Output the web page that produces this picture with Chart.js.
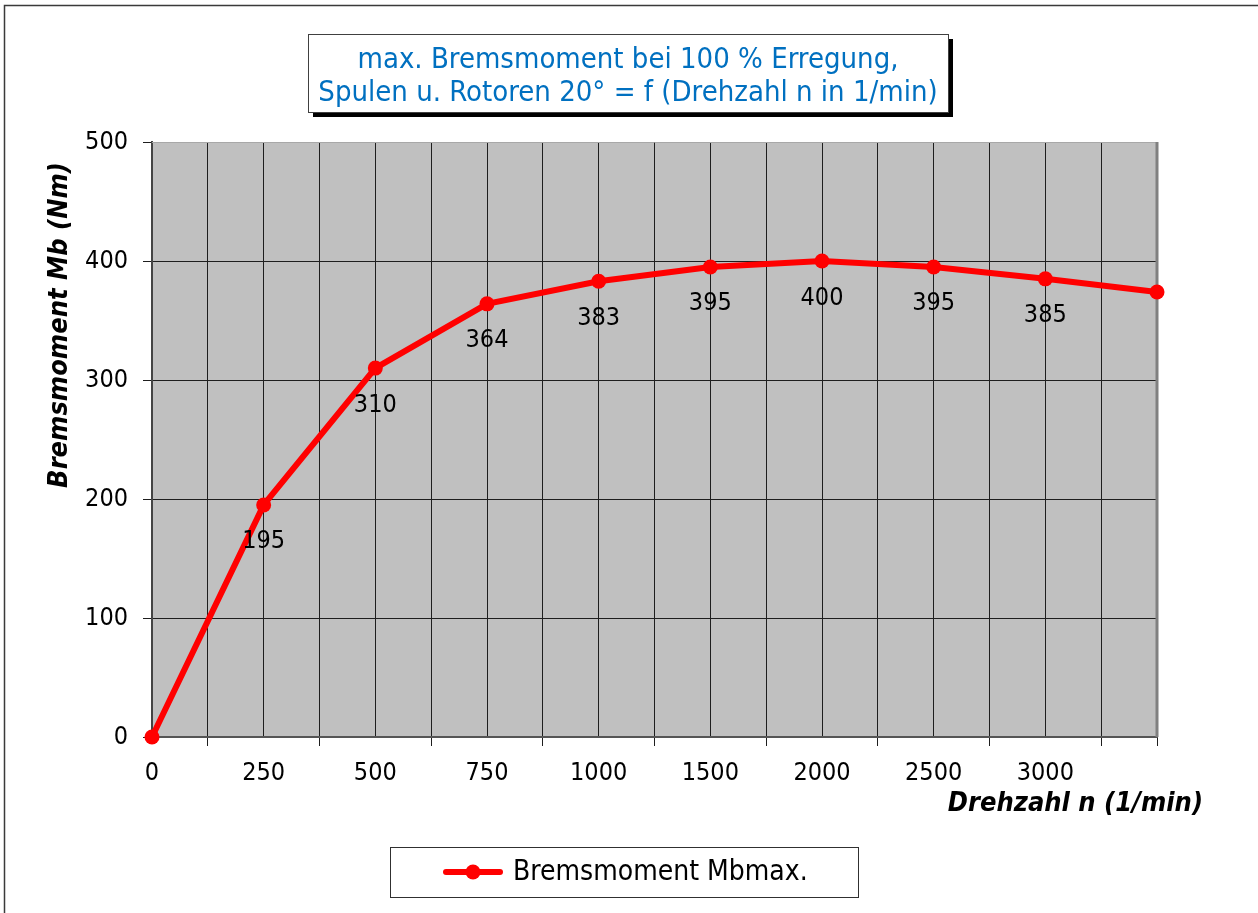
<!DOCTYPE html>
<html>
<head>
<meta charset="utf-8">
<script src="https://cdn.jsdelivr.net/npm/chart.js@4.4.0/dist/chart.umd.min.js"></script>
<style>
  html, body { margin: 0; padding: 0; background: #ffffff; }
  #wrap { width: 1258px; height: 913px; }
  canvas { display: block; }
</style>
</head>
<body>
<div id="wrap"><canvas id="chart" width="1258" height="913"></canvas></div>
<script>
// Rotational speed categories (1/min); the last point carries no axis label
const speedLabels = ['0', '250', '500', '750', '1000', '1500', '2000', '2500', '3000', ''];
// Maximum braking torque Mb (Nm) per speed step
const brakeTorque = [0, 195, 310, 364, 383, 395, 400, 395, 385, 374];
// Points whose value is printed below the marker
const labelledIdx = [1, 2, 3, 4, 5, 6, 7, 8];
// Torque axis range and step
const torqueMin = 0;
const torqueMax = 500;
const torqueStep = 100;

const titleLines = ['max. Bremsmoment bei 100 % Erregung,', 'Spulen u. Rotoren 20° = f (Drehzahl n in 1/min)'];
const seriesName = 'Bremsmoment Mbmax.';
const yTitle = 'Bremsmoment Mb (Nm)';
const xTitle = 'Drehzahl n (1/min)';

const FONT = '"DejaVu Sans Condensed", "DejaVu Sans", sans-serif';
const RED = '#ff0000';
const GRID = '#1e1e1e';

const points = brakeTorque.map((v, i) => ({ x: i, y: v }));
const lastIdx = speedLabels.length - 1;

// Frame, plot background and plot border
const backdrop = {
  id: 'backdrop',
  beforeDraw(chart) {
    const { ctx, chartArea: a } = chart;
    ctx.save();
    ctx.fillStyle = '#ffffff';
    ctx.fillRect(0, 0, chart.width, chart.height);
    ctx.strokeStyle = '#3a3a3a';
    ctx.lineWidth = 1.5;
    ctx.strokeRect(4.5, 5.5, chart.width + 10, chart.height + 10);
    ctx.fillStyle = '#c0c0c0';
    ctx.fillRect(a.left, a.top, a.right - a.left, a.bottom - a.top);
    ctx.restore();
  },
  beforeDatasetsDraw(chart) {
    const { ctx, chartArea: a } = chart;
    ctx.save();
    ctx.strokeStyle = '#a8a8a8';
    ctx.lineWidth = 1;
    ctx.beginPath();
    ctx.moveTo(a.left, a.top + 0.5);
    ctx.lineTo(a.right, a.top + 0.5);
    ctx.stroke();
    ctx.strokeStyle = '#808080';
    ctx.lineWidth = 3;
    ctx.beginPath();
    ctx.moveTo(a.right, a.top);
    ctx.lineTo(a.right, a.bottom);
    ctx.stroke();
    ctx.restore();
  }
};

// Value labels under the markers
const valueLabels = {
  id: 'valueLabels',
  afterDatasetsDraw(chart) {
    const { ctx } = chart;
    const meta = chart.getDatasetMeta(0);
    ctx.save();
    ctx.font = '25px ' + FONT;
    ctx.fillStyle = '#000000';
    ctx.textAlign = 'center';
    ctx.textBaseline = 'middle';
    labelledIdx.forEach(i => {
      const p = meta.data[i];
      ctx.fillText(String(brakeTorque[i]), p.x, p.y + 37);
    });
    ctx.restore();
  }
};

// Title box, axis titles and legend box
const decorations = {
  id: 'decorations',
  afterDraw(chart) {
    const { ctx } = chart;
    ctx.save();

    // title box with drop shadow
    const tx = 308, ty = 34, tw = 640, th = 78;
    ctx.fillStyle = '#000000';
    ctx.fillRect(tx + 5, ty + 5, tw, th);
    ctx.fillStyle = '#ffffff';
    ctx.fillRect(tx, ty, tw, th);
    ctx.strokeStyle = '#404040';
    ctx.lineWidth = 1;
    ctx.strokeRect(tx + 0.5, ty + 0.5, tw, th);
    ctx.fillStyle = '#0070c0';
    ctx.font = '29px ' + FONT;
    ctx.textAlign = 'center';
    ctx.textBaseline = 'middle';
    ctx.fillText(titleLines[0], tx + tw / 2, 60);
    ctx.fillText(titleLines[1], tx + tw / 2, 93);

    // axis titles
    ctx.fillStyle = '#000000';
    ctx.font = 'italic bold 27px ' + FONT;
    ctx.textAlign = 'right';
    ctx.fillText(xTitle, 1203, 804);
    ctx.save();
    ctx.translate(60, 325);
    ctx.rotate(-Math.PI / 2);
    ctx.textAlign = 'center';
    ctx.fillText(yTitle, 0, 0);
    ctx.restore();

    // legend
    const lx = 390, ly = 847, lw = 468, lh = 50;
    ctx.fillStyle = '#ffffff';
    ctx.fillRect(lx, ly, lw, lh);
    ctx.strokeStyle = '#303030';
    ctx.lineWidth = 1;
    ctx.strokeRect(lx + 0.5, ly + 0.5, lw, lh);
    const ds = chart.data.datasets[0];
    const my = ly + lh / 2;
    ctx.strokeStyle = ds.borderColor;
    ctx.lineWidth = ds.borderWidth;
    ctx.lineCap = 'round';
    ctx.beginPath();
    ctx.moveTo(446, my);
    ctx.lineTo(500, my);
    ctx.stroke();
    ctx.fillStyle = ds.pointBackgroundColor;
    ctx.beginPath();
    ctx.arc(473, my, ds.pointRadius, 0, Math.PI * 2);
    ctx.fill();
    ctx.fillStyle = '#000000';
    ctx.font = '28px ' + FONT;
    ctx.textAlign = 'left';
    ctx.fillText(ds.label, 513, my + 1);

    ctx.restore();
  }
};

new Chart(document.getElementById('chart'), {
  type: 'line',
  data: {
    datasets: [{
      label: seriesName,
      data: points,
      borderColor: RED,
      backgroundColor: RED,
      borderWidth: 6,
      pointRadius: 7.5,
      pointBackgroundColor: RED,
      pointBorderWidth: 0,
      tension: 0,
      clip: false
    }]
  },
  options: {
    responsive: false,
    animation: false,
    devicePixelRatio: 1,
    layout: { padding: { top: 142, right: 101, left: 0, bottom: 0 } },
    plugins: {
      legend: { display: false },
      title: { display: false },
      tooltip: { enabled: false }
    },
    scales: {
      x: {
        type: 'linear',
        min: 0,
        max: lastIdx,
        afterFit(scale) { scale.height = 176; },
        afterBuildTicks(scale) {
          const t = [];
          for (let v = 0; v <= lastIdx; v += 0.5) t.push({ value: v });
          scale.ticks = t;
        },
        ticks: {
          autoSkip: false,
          maxRotation: 0,
          padding: 12,
          color: '#000000',
          font: { family: FONT, size: 25 },
          callback: v => Number.isInteger(v) ? speedLabels[v] : ''
        },
        grid: {
          color: c => (c.tick && c.tick.value === lastIdx) ? 'rgba(0,0,0,0)' : GRID,
          lineWidth: 1,
          tickLength: 9,
          tickColor: c => (c.tick && (!Number.isInteger(c.tick.value) || c.tick.value === lastIdx)) ? GRID : 'rgba(0,0,0,0)'
        },
        border: { color: '#555555', width: 2 }
      },
      y: {
        type: 'linear',
        min: torqueMin,
        max: torqueMax,
        afterFit(scale) { scale.width = 152; },
        ticks: {
          stepSize: torqueStep,
          padding: 15,
          color: '#000000',
          font: { family: FONT, size: 25 }
        },
        grid: {
          color: c => (c.tick && c.tick.value === torqueMax) ? 'rgba(0,0,0,0)' : GRID,
          lineWidth: 1,
          tickLength: 9,
          tickColor: GRID
        },
        border: { color: '#444444', width: 2 }
      }
    }
  },
  plugins: [backdrop, valueLabels, decorations]
});
</script>
</body>
</html>
